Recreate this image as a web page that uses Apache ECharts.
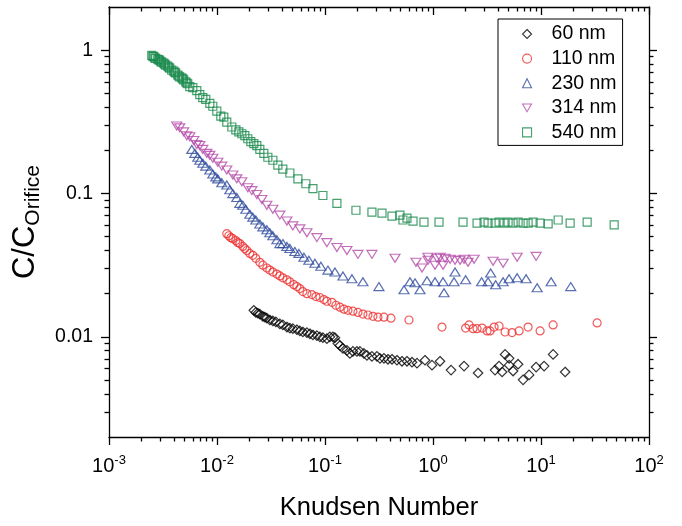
<!DOCTYPE html>
<html><head><meta charset="utf-8">
<script src="https://cdn.jsdelivr.net/npm/echarts@6/dist/echarts.min.js"></script>
<style>html,body{margin:0;padding:0;background:#fff}#c{width:682px;height:526px}</style>
</head><body><div id="c"></div>
<script>
const seriesNames = ['60 nm', '110 nm', '230 nm', '314 nm', '540 nm'];

const d60 = [[0.02193,0.0153],[0.02289,0.0148],[0.02388,0.0146],[0.02493,0.0144],[0.02658,0.0139],[0.02773,0.0137],[0.02894,0.0135],[0.03085,0.0131],[0.0329,0.0129],[0.03508,0.0127],[0.0382,0.0123],[0.04073,0.0121],[0.0444,0.0117],[0.0473,0.0115],[0.0504,0.0114],[0.0549,0.0112],[0.0585,0.011],[0.0624,0.0108],[0.068,0.0107],[0.0725,0.0105],[0.0773,0.0103],[0.0841,0.0102],[0.0897,0.01],[0.0956,0.00986],[0.1041,0.00971],[0.111,0.01],[0.1184,0.01],[0.1236,0.00986],[0.1317,0.00897],[0.1375,0.00869],[0.1466,0.00829],[0.1596,0.00804],[0.1701,0.00766],[0.1814,0.00791],[0.1975,0.00791],[0.2106,0.00791],[0.2294,0.00766],[0.2446,0.00743],[0.272,0.00731],[0.3027,0.00731],[0.3228,0.00708],[0.3516,0.00708],[0.3828,0.00697],[0.417,0.00697],[0.4639,0.00686],[0.5162,0.00675],[0.574,0.00675],[0.639,0.00665],[0.711,0.00655],[0.843,0.00686],[0.979,0.00634],[1.161,0.00675],[1.469,0.00586],[1.939,0.00625],[2.613,0.00559],[3.755,0.00586],[4.09,0.00625],[4.364,0.00568],[4.65,0.00754],[5.066,0.00708],[5.066,0.00634],[5.513,0.00577],[6.135,0.00644],[6.826,0.00501],[7.76,0.00542],[9.01,0.00615],[10.68,0.00625],[12.95,0.00754],[16.73,0.00568]];

const d110 = [[0.01232,0.0524],[0.01286,0.0507],[0.01343,0.0492],[0.01402,0.0484],[0.01494,0.0469],[0.01559,0.0454],[0.01627,0.0447],[0.01734,0.0427],[0.0181,0.0413],[0.01889,0.04],[0.02014,0.0382],[0.02147,0.037],[0.02289,0.0353],[0.02493,0.0331],[0.02658,0.0316],[0.02894,0.0302],[0.03085,0.0292],[0.0329,0.0283],[0.03584,0.0274],[0.0382,0.0266],[0.04073,0.0258],[0.0444,0.025],[0.0473,0.0242],[0.0515,0.0231],[0.0549,0.0224],[0.0585,0.0217],[0.0624,0.0207],[0.068,0.02],[0.0756,0.0197],[0.0824,0.0191],[0.0897,0.0188],[0.0977,0.0182],[0.1041,0.0177],[0.1159,0.0174],[0.1262,0.0166],[0.1375,0.0161],[0.1497,0.0156],[0.1631,0.0153],[0.1814,0.0151],[0.2018,0.0148],[0.2245,0.0144],[0.2498,0.0142],[0.278,0.0139],[0.3093,0.0137],[0.3516,0.0137],[0.408,0.0135],[0.599,0.0131],[1.211,0.0117],[2.005,0.0115],[2.157,0.0121],[2.349,0.0114],[2.557,0.0114],[2.846,0.0115],[3.167,0.011],[3.376,0.011],[3.677,0.0117],[4.09,0.0119],[4.65,0.0108],[5.398,0.0107],[6.268,0.011],[7.596,0.0117],[9.81,0.011],[12.95,0.0121],[33.1,0.0125]];

const d230 = [[0.00584,0.203],[0.00623,0.1905],[0.00664,0.1789],[0.00693,0.1706],[0.00739,0.1627],[0.00787,0.1552],[0.00858,0.1457],[0.00915,0.1369],[0.00975,0.1305],[0.01017,0.1265],[0.01108,0.1187],[0.01232,0.1146],[0.01314,0.1063],[0.01402,0.0998],[0.01526,0.0938],[0.01627,0.0853],[0.01734,0.0827],[0.01849,0.0776],[0.02014,0.0717],[0.02147,0.0684],[0.02289,0.0653],[0.02493,0.0613],[0.02658,0.0585],[0.02894,0.0558],[0.03085,0.0532],[0.0329,0.0507],[0.03584,0.0476],[0.0382,0.0447],[0.04073,0.0447],[0.0444,0.0427],[0.0473,0.0413],[0.0526,0.0394],[0.0573,0.0382],[0.0638,0.0359],[0.0709,0.0342],[0.0806,0.0326],[0.0916,0.0311],[0.1064,0.0292],[0.1236,0.0283],[0.1466,0.0266],[0.1776,0.0254],[0.2245,0.0242],[0.3158,0.0224],[0.539,0.0213],[0.612,0.0242],[0.681,0.0238],[0.758,0.0213],[0.880,0.0246],[1.044,0.0242],[1.238,0.0242],[1.265,0.0203],[1.566,0.0242],[1.600,0.0283],[2.005,0.0250],[2.821,0.0242],[3.235,0.0242],[3.420,0.0279],[3.804,0.0231],[4.457,0.0242],[5.066,0.0254],[6.01,0.0258],[7.278,0.0254],[9.21,0.0220],[12.41,0.0242],[18.85,0.0224]];

const d314 = [[0.00424,0.296],[0.00452,0.287],[0.00492,0.269],[0.00525,0.253],[0.0056,0.249],[0.0061,0.234],[0.0065,0.2195],[0.00693,0.216],[0.00739,0.203],[0.00805,0.1905],[0.00858,0.1845],[0.00915,0.176],[0.01017,0.1653],[0.01108,0.1552],[0.01232,0.1457],[0.01402,0.1347],[0.01526,0.1265],[0.01698,0.1207],[0.0193,0.1097],[0.02102,0.1047],[0.02338,0.0983],[0.02602,0.0908],[0.02894,0.0827],[0.0329,0.0776],[0.0382,0.0706],[0.0444,0.0642],[0.0504,0.0594],[0.0585,0.0566],[0.068,0.0532],[0.0841,0.0492],[0.1041,0.0454],[0.1289,0.042],[0.1596,0.04],[0.2018,0.0376],[0.272,0.0376],[0.4445,0.0353],[0.696,0.0331],[0.791,0.0302],[0.899,0.0359],[0.899,0.0342],[1.044,0.0316],[1.089,0.0353],[1.161,0.0359],[1.238,0.0316],[1.292,0.0353],[1.438,0.0348],[1.6,0.0342],[1.78,0.0342],[1.939,0.0348],[2.111,0.0331],[2.4,0.0348],[3.6,0.0337],[4.46,0.0326],[6.01,0.0359],[9.02,0.0364]];

const d540 = [[0.00249,0.92],[0.00255,0.9],[0.0026,0.906],[0.00266,0.88],[0.00271,0.878],[0.00283,0.864],[0.00289,0.855],[0.00295,0.85],[0.00302,0.83],[0.00308,0.824],[0.00321,0.811],[0.00328,0.8],[0.00335,0.786],[0.0035,0.774],[0.00358,0.76],[0.00365,0.75],[0.00381,0.726],[0.00398,0.715],[0.00407,0.7],[0.00415,0.693],[0.00433,0.671],[0.00442,0.66],[0.00452,0.651],[0.00472,0.641],[0.00482,0.63],[0.00492,0.621],[0.00514,0.601],[0.00525,0.59],[0.00536,0.583],[0.0056,0.556],[0.00597,0.547],[0.0065,0.522],[0.00693,0.49],[0.00739,0.467],[0.00787,0.453],[0.00858,0.425],[0.00915,0.406],[0.00996,0.375],[0.01085,0.347],[0.01156,0.341],[0.01232,0.315],[0.01372,0.291],[0.01494,0.278],[0.01592,0.269],[0.01698,0.261],[0.0181,0.253],[0.0193,0.241],[0.02057,0.23],[0.02193,0.223],[0.02338,0.216],[0.02493,0.203],[0.02715,0.1905],[0.02957,0.1789],[0.0329,0.1706],[0.0366,0.1577],[0.0407,0.148],[0.0473,0.139],[0.0561,0.1265],[0.0665,0.1169],[0.0773,0.108],[0.0956,0.0968],[0.1289,0.0853],[0.1934,0.0764],[0.272,0.074],[0.337,0.0729],[0.417,0.0695],[0.4945,0.0706],[0.527,0.0653],[0.574,0.0674],[0.653,0.0642],[0.825,0.0632],[1.137,0.0632],[1.897,0.0632],[2.557,0.0622],[2.97,0.0632],[3.235,0.0622],[3.755,0.0622],[4.09,0.0632],[4.55,0.0622],[4.957,0.0632],[5.513,0.0622],[6.135,0.0632],[6.826,0.0622],[7.596,0.0622],[8.452,0.0632],[9.81,0.0622],[11.64,0.0613],[14.41,0.0653],[18.61,0.0622],[26.75,0.0632],[47.6,0.0603]];

const xRange = [0.001, 100];
const yRange = [0.002, 2];
const xMajorExponents = [-3, -2, -1, 0, 1, 2];
const yMajorValues = [0.01, 0.1, 1];
const yTickLabels = ['0.01', '0.1', '1'];
const minorMultipliers = [2, 3, 4, 5, 6, 7, 8, 9];

const colors = ['#000000', '#ee3030', '#2f4b9e', '#b44aa9', '#17884a'];
const FF = "'Liberation Sans', Arial, Helvetica, sans-serif";

const lx = [Math.log10(xRange[0]), Math.log10(xRange[1])];
const ly = [Math.log10(yRange[0]), Math.log10(yRange[1])];
function minorTicks(range) {
  const out = [];
  for (let n = Math.floor(range[0]); n < Math.ceil(range[1]); n++) {
    minorMultipliers.forEach(k => {
      const v = n + Math.log10(k);
      if (v > range[0] + 1e-6 && v < range[1] - 1e-6) out.push(v);
    });
  }
  return out;
}
const xMinor = minorTicks(lx);
const yMinor = minorTicks(ly);
const xMajor = xMajorExponents.slice();
const yMajor = yMajorValues.map(v => Math.log10(v));

const lineStyle = { color: '#000', width: 1.3 };
const MAJ = 8, MIN = 4.5;

function tickAxis(pos, ticks, len, inside, extra) {
  const horiz = pos === 'top' || pos === 'bottom';
  return Object.assign({
    type: 'value', position: pos, min: horiz ? lx[0] : ly[0], max: horiz ? lx[1] : ly[1],
    axisLine: { show: false, onZero: false }, splitLine: { show: false },
    axisTick: { show: true, inside: inside, length: len, customValues: ticks, lineStyle: lineStyle },
    axisLabel: { show: false }
  }, extra || {});
}
function frameAxis(range, pos) {
  return { type: 'log', logBase: 10, min: range[0], max: range[1], position: pos,
    axisLine: { show: true, onZero: false, lineStyle: lineStyle },
    axisTick: { show: false }, axisLabel: { show: false }, splitLine: { show: false } };
}

const xLabelAxisExtra = {
  axisLabel: {
    show: true, customValues: xMajor, margin: 17,
    formatter: v => '{b|10}{s|' + Math.round(v) + '}',
    rich: {
      b: { fontFamily: FF, fontSize: 20, color: '#000', lineHeight: 24, verticalAlign: 'middle' },
      s: { fontFamily: FF, fontSize: 13, color: '#000', lineHeight: 13, verticalAlign: 'top' }
    }
  },
  name: 'Knudsen Number', nameLocation: 'middle', nameGap: 58,
  nameTextStyle: { fontFamily: FF, fontSize: 25.5, color: '#000' }
};
const yLabelAxisExtra = {
  axisLabel: {
    show: true, customValues: yMajor, margin: 16,
    fontFamily: FF, fontSize: 19.5, color: '#000',
    formatter: v => yTickLabels[yMajor.findIndex(m => Math.abs(m - v) < 1e-6)]
  },
  name: '{a|C/C}{b|Orifice}', nameLocation: 'middle', nameGap: 53, nameRotate: 90,
  nameTextStyle: {
    rich: {
      a: { fontFamily: FF, fontSize: 31, color: '#000', lineHeight: 38, verticalAlign: 'middle' },
      b: { fontFamily: FF, fontSize: 21, color: '#000', lineHeight: 21, verticalAlign: 'bottom' }
    }
  }
};

const xAxes = [
  frameAxis(xRange, 'bottom'),
  tickAxis('bottom', xMajor, MAJ, false, xLabelAxisExtra),
  tickAxis('bottom', xMinor, MIN, false),
  frameAxis(xRange, 'top'),
  tickAxis('top', xMajor, MAJ, true),
  tickAxis('top', xMinor, MIN, true)
];
const yAxes = [
  frameAxis(yRange, 'left'),
  tickAxis('left', yMajor, MAJ, false, yLabelAxisExtra),
  tickAxis('left', yMinor, MIN, false),
  frameAxis(yRange, 'right'),
  tickAxis('right', yMajor, MAJ, false),
  tickAxis('right', yMinor, MIN, false)
];

const symbols = [
  { symbol: 'diamond', size: 9.5, rotate: 0, icon: 'diamond' },
  { symbol: 'circle', size: 8, rotate: 0, icon: 'circle' },
  { symbol: 'triangle', size: [10, 8], rotate: 0, icon: 'triangle' },
  { symbol: 'triangle', size: [10, 8], rotate: 180, icon: 'path://M0,0L10,0L5,8.6Z' },
  { symbol: 'rect', size: 8, rotate: 0, icon: 'rect' }
];
const datasets = [d60, d110, d230, d314, d540];

const series = datasets.map((d, i) => ({
  name: seriesNames[i], type: 'scatter', xAxisIndex: 0, yAxisIndex: 0,
  data: d, symbol: symbols[i].symbol, symbolSize: symbols[i].size, symbolRotate: symbols[i].rotate,
  itemStyle: { color: 'rgba(255,255,255,0)', borderColor: colors[i], borderWidth: 1.2 },
  emphasis: { disabled: true }, silent: true
}));

const chart = echarts.init(document.getElementById('c'), null, { renderer: 'canvas' });
chart.setOption({
  animation: false,
  backgroundColor: '#fff',
  grid: { left: 109, right: 33, top: 7, bottom: 81, containLabel: false },
  xAxis: xAxes,
  yAxis: yAxes,
  legend: {
    data: seriesNames.map((n, i) => ({ name: n, icon: symbols[i].icon })),
    orient: 'vertical', left: 498, top: 19,
    padding: [5, 6, 3, 24], itemGap: 4.6, itemWidth: 9, itemHeight: 9,
    selectedMode: false,
    borderColor: '#000', borderWidth: 1,
    itemStyle: { borderWidth: 1.1 },
    textStyle: { fontFamily: FF, fontSize: 19.5, color: '#000', lineHeight: 19, padding: [0, 0, 0, 15] }
  },
  series: series
});
</script>
</body></html>
